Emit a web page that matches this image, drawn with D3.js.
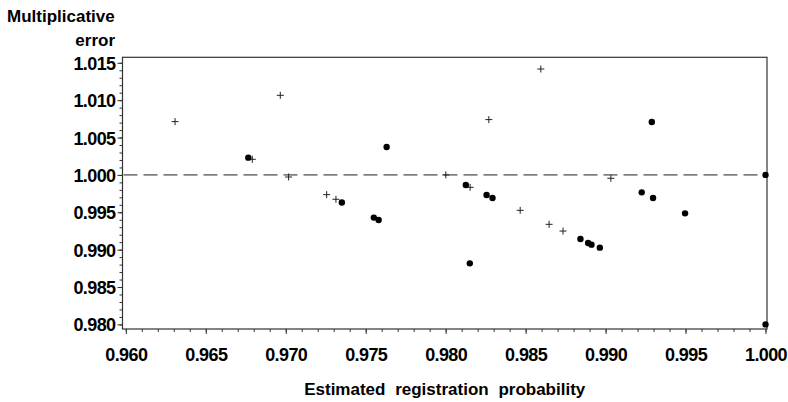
<!DOCTYPE html>
<html><head><meta charset="utf-8">
<script src="https://cdn.jsdelivr.net/npm/d3@7/dist/d3.min.js"></script>
<style>
html,body{margin:0;padding:0;background:#fff;}
text{font-family:"Liberation Sans",Arial,sans-serif;fill:#000;}
</style></head>
<body>
<svg id="c" width="788" height="402"></svg>
<script>
// Plus-marker series
const plusX = [0.96308,0.96966,0.96791,0.97018,0.97256,0.97314,0.98001,0.98153,0.98270,0.98595,0.98466,0.98647,0.98734,0.99033];
const plusY = [1.00713,1.01065,1.00209,0.99972,0.99736,0.99674,1.00000,0.99834,1.00740,1.01417,0.99526,0.99339,0.99249,0.99955];
// Filled-dot series
const dotX = [0.96766,0.97351,0.97551,0.97581,0.97631,0.98126,0.98151,0.98256,0.98293,0.98843,0.98891,0.98912,0.98964,0.99226,0.99289,0.99297,0.99497,1.00000,1.00000];
const dotY = [1.00231,0.99631,0.99429,0.99397,1.00373,0.99865,0.98817,0.99731,0.99691,0.99142,0.99089,0.99067,0.99027,0.99767,1.00708,0.99691,0.99486,1.00000,0.98000];
const xTicks = [0.960,0.965,0.970,0.975,0.980,0.985,0.990,0.995,1.000];
const yTicks = [0.980,0.985,0.990,0.995,1.000,1.005,1.010,1.015];
const xMinor = d3.range(0,41).map(i=>0.960+i*0.001);
const yMinor = d3.range(0,36).map(i=>0.980+i*0.001);
const refLine = 1.000;

const svg = d3.select("#c");
const L=122.5, R=767, T=57.3, B=329;
const x = d3.scaleLinear().domain([0.960,1.000]).range([125.8,765.5]);
const y = d3.scaleLinear().domain([0.980,1.015]).range([324.4,62.8]);
const axisColor="#333";

// frame
svg.append("rect").attr("x",L).attr("y",T).attr("width",R-L).attr("height",B-T)
  .attr("fill","none").attr("stroke",axisColor).attr("stroke-width",1.2);

// minor ticks
svg.append("g").attr("transform",`translate(0,${B})`)
  .call(d3.axisBottom(x).tickValues(xMinor).tickSize(3).tickFormat(""))
  .call(g=>{g.select(".domain").remove();g.selectAll("line").attr("stroke",axisColor);});
svg.append("g").attr("transform",`translate(${L},0)`)
  .call(d3.axisLeft(y).tickValues(yMinor).tickSize(3).tickFormat(""))
  .call(g=>{g.select(".domain").remove();g.selectAll("line").attr("stroke",axisColor);});

// major axes
svg.append("g").attr("transform",`translate(0,${B})`)
  .call(d3.axisBottom(x).tickValues(xTicks).tickSize(5).tickFormat(d3.format(".3f")))
  .call(g=>{
    g.select(".domain").remove();
    g.selectAll("line").attr("stroke",axisColor);
    g.selectAll("text").attr("y",32).attr("dy",null)
      .style("font-size","18px").style("font-weight","bold").attr("letter-spacing","-0.6").attr("fill","#000");
  });
svg.append("g").attr("transform",`translate(${L},0)`)
  .call(d3.axisLeft(y).tickValues(yTicks).tickSize(5).tickFormat(d3.format(".3f")))
  .call(g=>{
    g.select(".domain").remove();
    g.selectAll("line").attr("stroke",axisColor);
    g.selectAll("text").attr("x",-7).attr("dy","0.36em")
      .style("font-size","18px").style("font-weight","bold").attr("letter-spacing","-0.6").attr("fill","#000");
  });

// reference dashed line
svg.append("line").attr("x1",L+1).attr("x2",R-1).attr("y1",y(refLine)).attr("y2",y(refLine))
  .attr("stroke","#808080").attr("stroke-width",1.6).attr("stroke-dasharray","14,6");

// plus markers
const pd = plusX.map((v,i)=>[v,plusY[i]]);
svg.append("g").selectAll("path").data(pd).join("path")
  .attr("d",d=>{const cx=x(d[0]),cy=y(d[1]);return `M${cx-3.5},${cy}H${cx+3.5}M${cx},${cy-3.5}V${cy+3.5}`;})
  .attr("stroke","#222").attr("stroke-width",1).attr("fill","none");

// dots
const dd = dotX.map((v,i)=>[v,dotY[i]]);
svg.append("g").selectAll("circle").data(dd).join("circle")
  .attr("cx",d=>x(d[0])).attr("cy",d=>y(d[1])).attr("r",3.2).attr("fill","#000");

// titles
svg.append("text").attr("x",7).attr("y",22).style("font-size","17px").style("font-weight","bold").text("Multiplicative");
svg.append("text").attr("x",115).attr("y",46).attr("text-anchor","end").style("font-size","17px").style("font-weight","bold").text("error");
svg.append("text").attr("x",(L+R)/2).attr("y",395).attr("text-anchor","middle")
  .style("font-size","17px").style("font-weight","bold").attr("word-spacing","5").text("Estimated registration probability");
</script>
</body></html>
